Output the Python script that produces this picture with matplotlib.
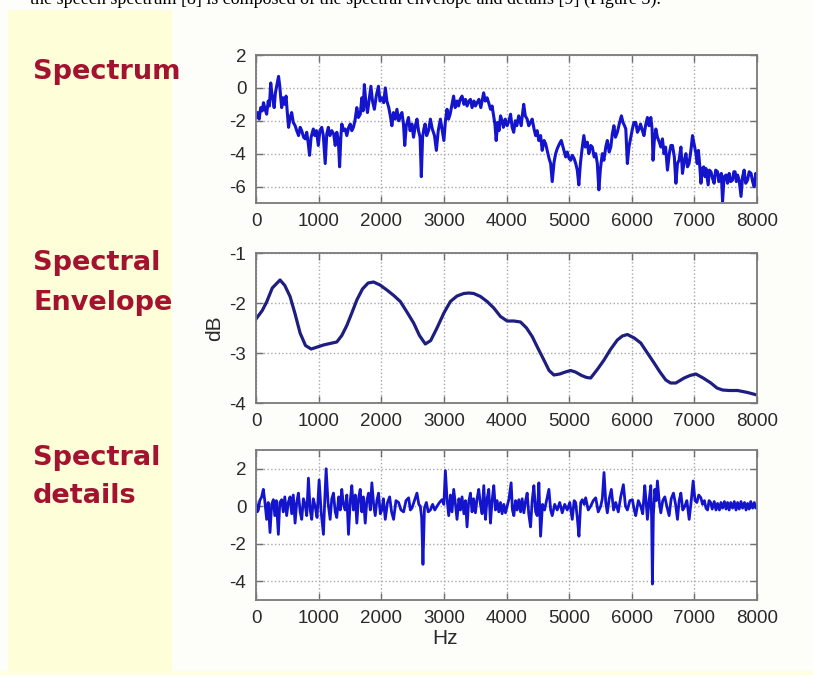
import matplotlib
matplotlib.use("Agg")
import matplotlib.pyplot as plt
from matplotlib.patches import Rectangle

plt.rcParams['axes.unicode_minus'] = False

# values (Hz, dB)
spec_hz = [0, 25, 50, 75, 100, 120, 145, 170, 195, 215, 235, 255, 275, 290, 310, 335, 360,
           380, 395, 410, 430, 455, 480, 500, 520, 545, 570, 595, 625, 650, 680, 705, 730,
           760, 785, 810, 835, 855, 880, 915, 940, 965, 995,
           1020, 1050, 1075, 1105, 1130, 1155, 1180, 1210, 1240, 1265, 1290, 1315, 1335,
           1355, 1370, 1400, 1425, 1450, 1480, 1505, 1530, 1555, 1580, 1610, 1635, 1665,
           1690, 1710, 1730, 1755, 1780, 1810, 1835, 1860, 1890, 1920, 1955, 1980, 2010,
           2040, 2065, 2090, 2120, 2145, 2170, 2195, 2225, 2250, 2280, 2305, 2330, 2355,
           2375, 2400, 2435, 2460, 2490, 2515, 2545, 2570, 2595, 2620, 2640, 2660, 2680,
           2700, 2725, 2755, 2785, 2815, 2850, 2880, 2910, 2945, 2970, 3000,
           3025, 3050, 3075, 3100, 3130, 3155, 3180, 3210, 3235, 3260, 3290, 3320, 3345,
           3370, 3400, 3425, 3450, 3480, 3505, 3530, 3560, 3590, 3610, 3635, 3660, 3690,
           3715, 3745, 3770, 3795, 3815, 3835, 3860, 3880, 3905, 3930, 3950, 3980, 4010,
           4040, 4065, 4090, 4115, 4140, 4165, 4195, 4215, 4235, 4255, 4275, 4300, 4330,
           4355, 4385, 4410, 4440, 4465, 4490, 4515, 4545, 4570, 4600, 4625, 4655, 4680,
           4705, 4730, 4760, 4785, 4810, 4845, 4875, 4910, 4945, 4970, 5000,
           5025, 5050, 5080, 5105, 5130, 5155, 5180, 5210, 5235, 5260, 5290, 5315, 5345,
           5370, 5400, 5425, 5450, 5475, 5500, 5530, 5555, 5585, 5610, 5640, 5665, 5690,
           5715, 5740, 5770, 5800, 5835, 5860, 5885, 5905, 5930, 5955, 5985, 6010,
           6035, 6065, 6090, 6115, 6140, 6170, 6195, 6220, 6250, 6275, 6305, 6325, 6340,
           6360, 6385, 6410, 6440, 6465, 6490, 6515, 6540, 6570, 6600, 6625, 6650, 6680,
           6705, 6730, 6755, 6785, 6810, 6840, 6865, 6890, 6915, 6945, 6970, 7000,
           7025, 7045, 7065, 7085, 7105, 7125, 7150, 7170, 7185, 7205, 7220, 7240, 7265,
           7290, 7315, 7340, 7370, 7390, 7410, 7430, 7450, 7475, 7505, 7530, 7555, 7580,
           7610, 7630, 7650, 7670, 7690, 7715, 7745, 7770, 7795, 7820, 7850, 7875, 7905,
           7930, 7955, 7980, 8000]
spec_db = [-1.8, -1.5, -1.9, -1.2, -1.4, -0.9, -1.3, -1.6, -0.8, -1.1, 0.3, -0.4, -0.8,
           -1.2, -0.3, 0.2, 0.7, 0.1, -0.6, -1.2, -0.6, -1.0, -0.5, -1.5, -2.4, -1.8, -1.5,
           -2.1, -2.3, -2.6, -2.9, -2.4, -2.6, -3.0, -3.1, -2.7, -3.4, -4.1, -3.0, -2.5,
           -2.9, -2.6, -3.5,
           -2.6, -2.4, -2.9, -4.6, -2.8, -2.4, -2.9, -2.6, -2.8, -3.5, -2.7, -3.2, -4.8,
           -3.0, -2.2, -2.6, -2.5, -2.9, -2.4, -2.2, -2.6, -2.4, -2.0, -1.2, -1.8, -1.6,
           -0.6, -1.4, 0.2, -0.9, -1.5, -0.6, 0.1, -0.8, -1.3, -0.5, 0.1, -0.8, -0.6,
           -0.9, 0.0, -0.8, -1.2, -1.7, -2.3, -1.5, -1.9, -1.3, -2.0, -1.7, -1.5, -2.2,
           -3.5, -2.3, -1.8, -2.6, -2.2, -3.0, -2.3, -1.9, -2.6, -3.0, -5.4, -3.0, -2.5,
           -2.2, -2.9, -2.6, -1.9, -2.5, -2.9, -3.8, -2.6, -1.9, -2.5, -3.2,
           -2.0, -1.3, -1.9, -1.6, -1.0, -0.5, -1.2, -0.8, -1.1, -0.7, -0.5, -1.0, -0.7,
           -1.1, -0.8, -0.7, -1.2, -0.8, -1.1, -0.9, -0.7, -1.2, -0.8, -0.3, -0.8, -0.6,
           -0.9, -1.3, -1.1, -1.7, -2.2, -3.2, -2.1, -2.6, -1.7, -2.0, -2.4, -1.9, -2.3,
           -2.0, -1.6, -2.4, -2.7, -2.0, -2.3, -1.7, -2.0, -2.3, -1.6, -1.0, -1.7, -1.9,
           -2.3, -2.1, -1.9, -2.5, -2.9, -2.6, -3.2, -2.9, -3.8, -3.2, -3.4, -3.9, -4.3,
           -4.6, -5.7, -4.5, -4.0, -3.7, -3.4, -3.2, -3.7, -4.2, -3.9, -4.3,
           -4.4, -4.1, -4.3, -4.6, -5.0, -5.9, -4.6, -3.6, -2.9, -3.6, -3.3, -4.0, -3.5,
           -3.6, -4.2, -4.0, -4.6, -6.2, -4.9, -4.0, -4.4, -3.6, -3.2, -3.9, -3.6, -2.8,
           -2.3, -3.0, -2.7, -2.2, -1.7, -2.1, -2.3, -2.5, -4.6, -3.6, -3.0, -2.5,
           -2.1, -2.1, -2.7, -2.5, -2.2, -2.6, -2.9, -2.3, -1.8, -2.3, -1.8, -2.5, -4.4,
           -3.2, -2.5, -3.0, -3.3, -3.6, -3.1, -4.0, -3.6, -5.0, -4.0, -3.5, -3.5, -4.2,
           -5.8, -4.6, -4.4, -3.6, -5.2, -4.4, -4.0, -4.8, -4.6, -3.8, -2.9, -3.5,
           -4.0, -4.6, -3.8, -4.7, -5.8, -4.9, -4.8, -5.4, -4.9, -5.5, -5.9, -5.0, -5.1,
           -5.5, -5.8, -5.0, -5.1, -5.7, -5.6, -5.2, -6.9, -5.4, -5.3, -5.8, -5.2, -5.7,
           -5.6, -5.1, -5.1, -5.7, -5.3, -5.6, -6.6, -5.4, -5.0, -5.8, -5.6, -5.1, -5.2,
           -5.7, -6.0, -5.2, -5.5]

env_hz = [0, 100, 170, 260, 384, 460, 544, 620, 704, 790, 880, 980, 1077, 1180, 1290,
          1370, 1450, 1530, 1610, 1700, 1790, 1877, 1980, 2090, 2200, 2304, 2410, 2517,
          2610, 2704, 2790, 2890, 3000, 3104, 3210, 3317, 3400, 3477, 3584, 3690, 3797,
          3904, 4010, 4117, 4224, 4320, 4410, 4500, 4597, 4680, 4757, 4850, 4940, 5024,
          5100, 5200, 5280, 5344, 5450, 5557, 5660, 5770, 5850, 5930, 6040, 6144, 6250,
          6357, 6450, 6544, 6620, 6704, 6837, 6930, 7024, 7140, 7264, 7360, 7450, 7560,
          7690, 7850, 8000]
env_db = [-2.32, -2.15, -1.98, -1.7, -1.54, -1.65, -1.87, -2.2, -2.6, -2.85, -2.92,
          -2.88, -2.84, -2.81, -2.78, -2.65, -2.45, -2.2, -1.94, -1.72, -1.6, -1.58,
          -1.64, -1.74, -1.85, -1.97, -2.18, -2.4, -2.65, -2.82, -2.75, -2.5, -2.2,
          -1.97, -1.86, -1.81, -1.8, -1.81, -1.87, -1.97, -2.1, -2.27, -2.36, -2.36,
          -2.38, -2.5, -2.67, -2.9, -3.14, -3.35, -3.44, -3.42, -3.38, -3.35, -3.38,
          -3.45, -3.49, -3.5, -3.33, -3.14, -2.93, -2.74, -2.66, -2.63, -2.7, -2.8,
          -3.0, -3.2, -3.38, -3.54, -3.6, -3.6, -3.5, -3.45, -3.42, -3.5, -3.6, -3.7,
          -3.74, -3.75, -3.75, -3.79, -3.84]

det_hz = [0, 20, 37, 60, 90, 117, 140, 170, 195, 224, 250, 277, 300, 325, 357, 380, 410,
          435, 460, 490, 515, 544, 570, 595, 624, 650, 677, 705, 730, 757, 784, 810, 837,
          865, 890, 915, 944, 975, 1008,
          1040, 1077, 1100, 1120, 1150, 1184, 1210, 1237, 1265, 1290, 1320, 1345, 1370,
          1395, 1424, 1450, 1477, 1505, 1530, 1555, 1585, 1610, 1637, 1664, 1690, 1715,
          1744, 1770, 1797, 1825, 1850, 1878, 1904, 1930, 1957, 1985, 2010,
          2035, 2064, 2100, 2134, 2165, 2197, 2235, 2277, 2315, 2357, 2395, 2437, 2465,
          2490, 2530, 2570, 2600, 2624, 2645, 2666, 2690, 2720, 2750, 2784, 2820, 2855,
          2890, 2930, 2970, 3000, 3024,
          3050, 3077, 3105, 3130, 3157, 3185, 3210, 3240, 3265, 3290, 3320, 3345, 3370,
          3395, 3424, 3450, 3475, 3504, 3530, 3557, 3584, 3610, 3637, 3664, 3690, 3717,
          3744, 3770, 3797, 3824, 3850, 3877, 3904, 3930, 3957, 3984, 4010,
          4040, 4074, 4095, 4117, 4145, 4170, 4197, 4225, 4250, 4277, 4305, 4330, 4355,
          4384, 4410, 4437, 4465, 4490, 4517, 4544, 4575, 4608, 4640, 4677, 4705, 4730,
          4770, 4810, 4850, 4890, 4930, 4970, 5010,
          5050, 5080, 5104, 5130, 5157, 5185, 5210, 5240, 5264, 5305, 5344, 5385, 5424,
          5465, 5504, 5530, 5557, 5585, 5610, 5640, 5674, 5710, 5744, 5785, 5824, 5866,
          5900, 5930, 5970, 6010,
          6040, 6064, 6105, 6144, 6175, 6208, 6230, 6250, 6280, 6304, 6318, 6330, 6345,
          6368, 6390, 6410, 6440, 6464, 6495, 6528, 6560, 6597, 6630, 6666, 6700, 6730,
          6757, 6784, 6815, 6848, 6880, 6917, 6950, 6981, 7010,
          7040, 7070, 7104, 7130, 7160, 7185, 7210, 7235, 7260, 7285, 7317, 7345, 7370,
          7400, 7424, 7450, 7480, 7505, 7530, 7555, 7580, 7610, 7637, 7665, 7690, 7717,
          7744, 7770, 7800, 7825, 7850, 7875, 7900, 7930, 7957, 7980, 8000]
det_db = [0.2, -0.3, -0.2, 0.3, 0.5, 0.9, 0.3, -0.7, 0.2, -1.4, 0.1, 0.35, -0.5, 0.3,
          -1.5, 0.2, 0.35, -0.3, 0.5, -0.5, 0.2, 0.5, -0.4, 0.6, -0.9, 0.2, 0.7, -0.3,
          -0.7, 0.4, 0.1, -0.5, 1.5, -0.2, -0.7, 0.4, 0.0, -0.6, 1.4,
          -0.3, -1.5, 0.5, 2.0, 0.2, -0.7, 0.4, 0.7, -0.3, -0.6, 0.5, -0.2, 0.9, 0.1,
          -0.2, 0.6, -1.5, 0.3, 1.1, -0.2, 0.6, -0.9, 0.4, 0.9, -0.3, 0.5, -0.9, 0.3,
          0.7, -0.2, 1.25, 0.1, -0.5, 0.3, 0.7, -0.4, -0.2,
          0.4, -0.7, 0.2, 0.5, -0.3, -0.7, 0.3, 0.2, -0.2, -0.3, 0.3, 0.45, -0.2, -0.1,
          0.3, 0.7, 0.1, 0.0, -0.6, -3.1, -0.1, 0.2, -0.3, -0.2, 0.1, -0.2, 0.0, 0.2,
          0.35, 0.1, 1.9,
          0.4, -0.5, 0.6, -0.3, 0.9, 0.1, -0.7, 0.4, -0.2, 0.5, -0.4, 0.3, -1.1, 0.2,
          0.7, -0.3, 0.4, -0.35, 0.4, 0.9, 0.1, -0.4, 1.1, -0.7, 0.4, 0.9, -0.9, 0.3,
          1.1, -0.2, 0.3, -0.3, 0.2, -0.4, 0.1, -0.35, 0.0,
          0.4, 1.25, -0.2, -0.5, 0.3, -0.2, 0.35, -0.3, 0.4, -0.35, 0.3, 0.7, -0.4,
          -1.1, 0.3, 1.1, -0.3, -0.5, 1.25, -1.6, 0.1, -0.2, 0.3, 0.9, -0.2, -0.5, 0.1,
          -0.2, 0.2, -0.35, 0.1, -0.2, 0.2,
          -0.7, 0.3, 0.2, -0.6, -1.6, 0.2, 0.35, 0.1, 0.45, -0.2, 0.0, 0.3, 0.45, -0.3,
          0.0, 0.4, 1.8, 0.2, -0.35, 0.4, 0.9, -0.2, 0.2, -0.3, 0.5, 1.15, 0.0, -0.2,
          0.3, 0.35,
          -0.2, -0.5, 0.3, 0.0, -0.4, 1.1, 0.2, -0.7, 0.4, 1.1, -0.8, -4.15, -0.5, 0.9,
          0.3, 1.35, 0.2, -0.35, 0.3, 0.5, 0.0, -0.5, 0.4, 0.7, 0.1, -0.7, 0.3, 0.7,
          -0.2, 0.0, 0.3, -0.7, 0.3, 1.35, 0.3,
          0.2, 0.6, 0.45, 0.1, 0.3, -0.1, -0.2, 0.3, 0.2, -0.15, 0.25, -0.2, 0.15, -0.2,
          0.2, -0.1, 0.25, -0.15, 0.2, -0.2, 0.2, -0.1, 0.25, -0.2, 0.2, -0.15, 0.25,
          -0.1, 0.2, -0.2, 0.15, -0.15, 0.25, -0.1, 0.2, -0.1, 0.0]

xticks = [0, 1000, 2000, 3000, 4000, 5000, 6000, 7000, 8000]
W, H = 813, 675

fig = plt.figure(figsize=(W / 100, H / 100), dpi=100)
fig.patch.set_facecolor('#fdfdfa')

# yellow side panel
fig.patches.append(Rectangle((8 / W, 0), 164 / W, 1 - 10 / H, transform=fig.transFigure,
                             facecolor='#fefed8', edgecolor='none', zorder=0))
fig.patches.append(Rectangle((0, 0), 1, 4 / H, transform=fig.transFigure,
                             facecolor='#fefee0', edgecolor='none', zorder=0))

# clipped line of document text above the slide
fig.text(30 / W, 1 - 4 / H, "the speech spectrum [8] is composed of the spectral envelope and details [9] (Figure 3).",
         family=['Liberation Serif', 'DejaVu Serif'], fontsize=13, color='black', va='baseline')

tick_family = ['Liberation Sans Narrow', 'Liberation Sans']


def make_axes(top, bottom, ylim, yticks):
    ax = fig.add_axes([256 / W, 1 - bottom / H, 501 / W, (bottom - top) / H])
    ax.set_facecolor('white')
    ax.set_xlim(0, 8000)
    ax.set_ylim(*ylim)
    ax.set_xticks(xticks)
    ax.set_yticks(yticks)
    ax.grid(True, linestyle=':', color='#a8a8a8', linewidth=1.0)
    ax.tick_params(direction='in', length=5, width=1, color='#707070', top=True, right=True,
                   labelcolor='#2a2a2a', pad=7)
    for lab in ax.get_xticklabels() + ax.get_yticklabels():
        lab.set_family(tick_family)
        lab.set_fontsize(13.5)
    for s in ax.spines.values():
        s.set_color('#7a7a7a')
        s.set_linewidth(1.3)
    return ax


ax1 = make_axes(55, 203, (-7, 2), [-6, -4, -2, 0, 2])
ax1.plot(spec_hz, spec_db, color='#1414cc', linewidth=2.2)

ax2 = make_axes(253, 403, (-4, -1), [-4, -3, -2, -1])
ax2.plot(env_hz, env_db, color='#1e1e80', linewidth=2.3)
ax2.set_ylabel('dB', family=tick_family, fontsize=15, color='#2a2a2a', labelpad=4)

ax3 = make_axes(450, 600, (-5, 3), [-4, -2, 0, 2])
ax3.plot(det_hz, det_db, color='#1414cc', linewidth=2.0)
ax3.set_xlabel('Hz', family=tick_family, fontsize=15, color='#2a2a2a')
ax3.xaxis.set_label_coords((445 - 256) / 501, -0.19)

lab_style = dict(family='DejaVu Sans', weight='bold', fontsize=19.5, color='#a3122e')
fig.text(33 / W, 1 - 79 / H, 'Spectrum', va='baseline', **lab_style)
fig.text(33 / W, 1 - 270 / H, 'Spectral', va='baseline', **lab_style)
fig.text(33 / W, 1 - 310 / H, 'Envelope', va='baseline', **lab_style)
fig.text(33 / W, 1 - 465 / H, 'Spectral', va='baseline', **lab_style)
fig.text(33 / W, 1 - 503 / H, 'details', va='baseline', **lab_style)

fig.savefig('out.png', dpi=100, facecolor=fig.get_facecolor())
